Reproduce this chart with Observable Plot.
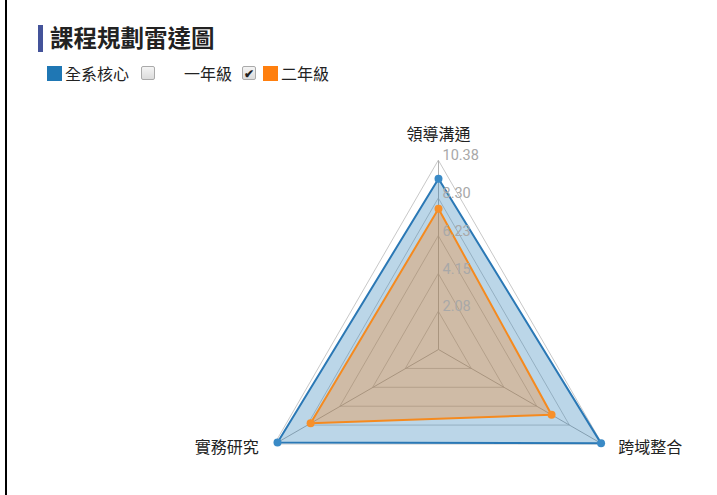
<!DOCTYPE html>
<html>
<head>
<meta charset="utf-8">
<script src="https://cdn.jsdelivr.net/npm/d3@7"></script>
<script src="https://cdn.jsdelivr.net/npm/@observablehq/plot@0.6"></script>
<style>
  html, body { margin: 0; padding: 0; background: #fff; }
  #page { position: relative; width: 717px; height: 495px; overflow: hidden; font-family: "Noto Sans CJK TC", "Noto Sans", sans-serif; }
  #frame { position: absolute; left: 5px; top: 0; width: 2px; height: 495px; background: #000; }
  #bar { position: absolute; left: 38px; top: 25px; width: 5px; height: 27px; background: #44539a; }
  #title { position: absolute; left: 50px; top: 22px; font-size: 23.5px; font-weight: bold; color: #222; line-height: 30px; white-space: nowrap; }
  .sw { position: absolute; width: 15px; height: 15px; top: 66px; }
  .lt { position: absolute; top: 63px; font-size: 16px; color: #222; line-height: 20px; white-space: nowrap; }
  .cb { position: absolute; top: 66px; width: 12px; height: 12px; border: 1px solid #aaa; border-radius: 2px; background: linear-gradient(#f4f4f4, #dcdcdc); font-size: 12px; font-weight: bold; line-height: 12px; text-align: center; color: #222; }
  #chart { position: absolute; left: 0; top: 100px; }
</style>
</head>
<body>
<div id="page">
  <div id="frame"></div>
  <div id="bar"></div>
  <div id="title"></div>
  <div id="legend"></div>
  <div id="chart"></div>
</div>
<script>
const titleText = "課程規劃雷達圖";
const axes = ["領導溝通", "跨域整合", "實務研究"];
const seriesNames = ["全系核心", "一年級", "二年級"];
const seriesColors = ["#1f77b4", "#ffffff", "#ff7f0e"];
const seriesChecked = [null, false, true];
const coreValues = [9.38, 10.31, 10.21];
const year2Values = [7.73, 7.17, 8.11];
const tickValues = [2.08, 4.15, 6.23, 8.30, 10.38];
const tickLabels = ["2.08", "4.15", "6.23", "8.30", "10.38"];
const maxValue = 10.38;

document.getElementById("title").textContent = titleText;

// legend
const legend = document.getElementById("legend");
const legendPos = [
  {cb: null, sw: 47, text: 65},
  {cb: 141, sw: 163, text: 184},
  {cb: 242, sw: 263, text: 281}
];
seriesNames.forEach((name, i) => {
  const p = legendPos[i];
  if (seriesChecked[i] !== null) {
    const cb = document.createElement("div");
    cb.className = "cb";
    cb.style.left = p.cb + "px";
    cb.textContent = seriesChecked[i] ? "✔" : "";
    legend.appendChild(cb);
  }
  const sw = document.createElement("div");
  sw.className = "sw";
  sw.style.left = p.sw + "px";
  sw.style.background = seriesColors[i];
  legend.appendChild(sw);
  const t = document.createElement("div");
  t.className = "lt";
  t.style.left = p.text + "px";
  t.textContent = name;
  legend.appendChild(t);
});

const n = axes.length;
const ang = i => i * 2 * Math.PI / n;
const px = (r, i) => r * Math.sin(ang(i));
const py = (r, i) => r * Math.cos(ang(i));

const rings = tickValues.flatMap(t => axes.map((a, i) => ({t, i})));
const toPts = (name, vals) => vals.map((v, i) => ({name, i, v}));
const core = toPts(seriesNames[0], coreValues);
const year2 = toPts(seriesNames[2], year2Values);
const ticks = tickValues.map((v, i) => ({v, label: tickLabels[i]}));
const axisPts = axes.map((name, i) => ({name, i}));

const cx = 438, cy = 249, R = 189;

const chart = Plot.plot({
  width: 717,
  height: 395,
  margin: 0,
  style: {fontFamily: "'Noto Sans CJK TC', sans-serif", background: "transparent", overflow: "visible"},
  x: {domain: [-maxValue, maxValue], range: [cx - R, cx + R], axis: null},
  y: {domain: [-maxValue, maxValue], range: [cy + R, cy - R], axis: null},
  marks: [
    Plot.line(rings, {x: d => px(d.t, d.i), y: d => py(d.t, d.i), z: "t", curve: "linear-closed", stroke: "#c8c8c8", strokeWidth: 1}),
    Plot.link(axisPts, {x1: 0, y1: 0, x2: d => px(maxValue, d.i), y2: d => py(maxValue, d.i), stroke: "#b0b0b0", strokeWidth: 1}),
    Plot.line(core, {x: d => px(d.v, d.i), y: d => py(d.v, d.i), curve: "linear-closed", fill: seriesColors[0], fillOpacity: 0.3, stroke: "#2a78b5", strokeWidth: 2}),
    Plot.line(year2, {x: d => px(d.v, d.i), y: d => py(d.v, d.i), curve: "linear-closed", fill: seriesColors[2], fillOpacity: 0.3, stroke: "#f58a1f", strokeWidth: 2}),
    Plot.dot(core, {x: d => px(d.v, d.i), y: d => py(d.v, d.i), r: 4, fill: "#3a8ac6"}),
    Plot.dot(year2, {x: d => px(d.v, d.i), y: d => py(d.v, d.i), r: 4, fill: "#f7902a"}),
    Plot.text(ticks, {x: 0, y: d => d.v, text: "label", textAnchor: "start", dx: 4, dy: -5, fill: "#a8a8a8", fontSize: 14.5, fontFamily: "Roboto, sans-serif"}),
    Plot.text(axisPts.filter(d => d.i === 0), {x: d => px(maxValue, d.i), y: d => py(maxValue, d.i), text: "name", textAnchor: "middle", dy: -26, fontSize: 16, fill: "#222"}),
    Plot.text(axisPts.filter(d => d.i === 1), {x: d => px(maxValue, d.i), y: d => py(maxValue, d.i), text: "name", textAnchor: "start", dx: 16, dy: 4, fontSize: 16, fill: "#222"}),
    Plot.text(axisPts.filter(d => d.i === 2), {x: d => px(maxValue, d.i), y: d => py(maxValue, d.i), text: "name", textAnchor: "end", dx: -16, dy: 4, fontSize: 16, fill: "#222"})
  ]
});
document.getElementById("chart").appendChild(chart);
</script>
</body>
</html>
